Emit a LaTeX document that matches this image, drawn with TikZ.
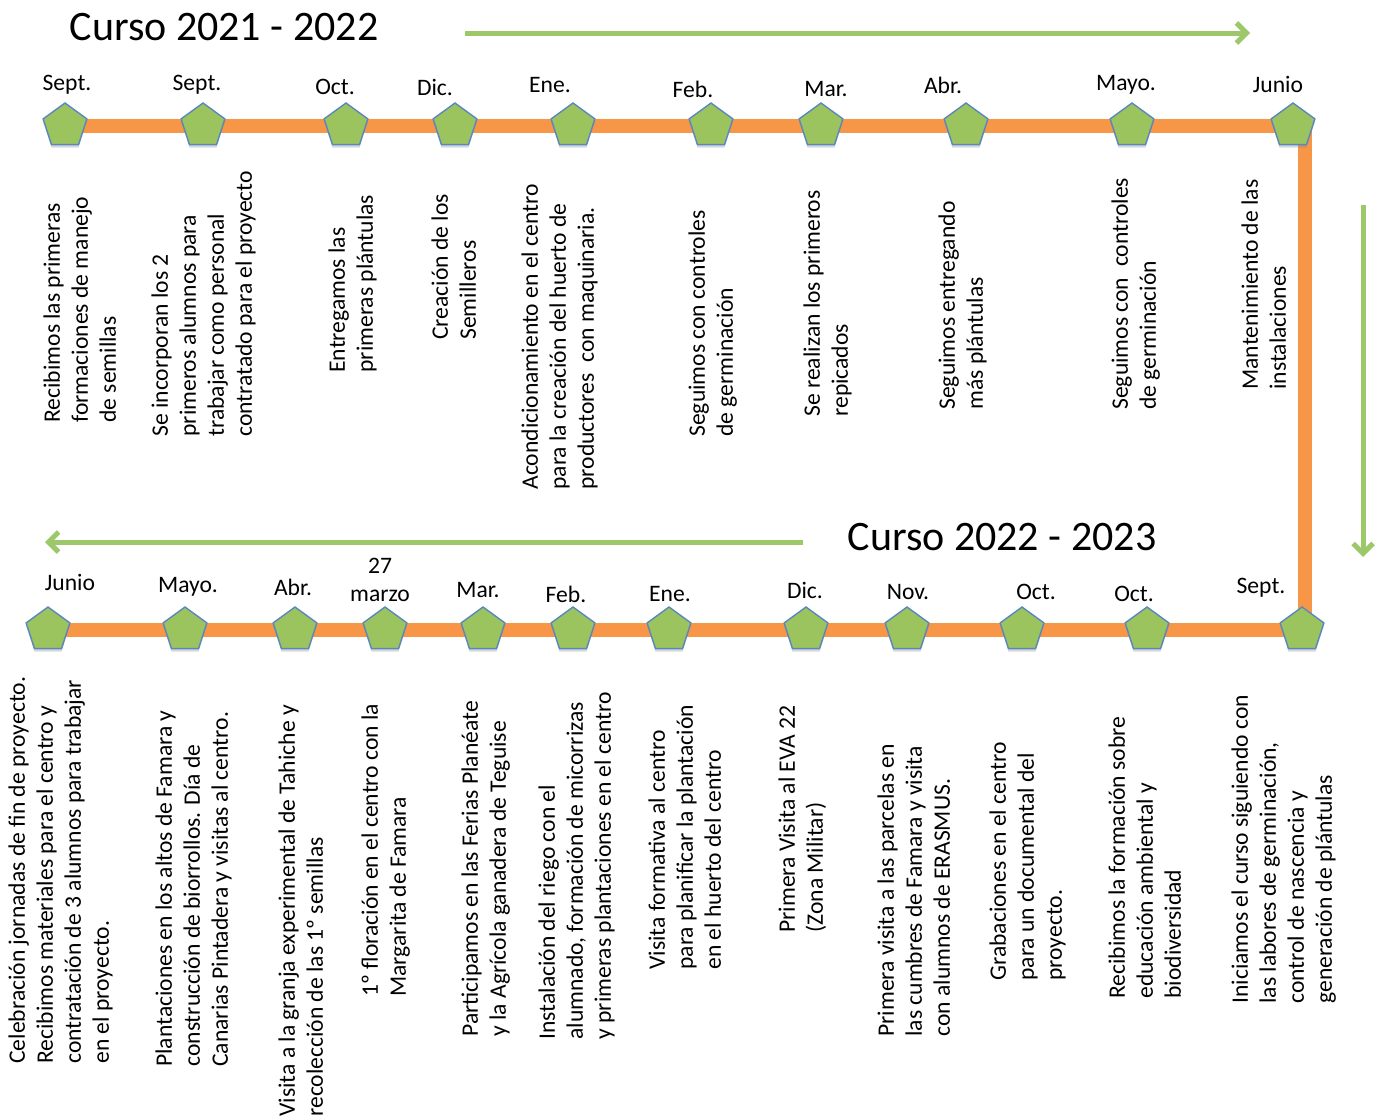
\documentclass[tikz,border=0pt]{standalone}
\usepackage{fontspec}
\setmainfont{Carlito}
\usetikzlibrary{arrows.meta,positioning,shapes.geometric,backgrounds,shadows}
\definecolor{lineorange}{HTML}{F79646}
\definecolor{leafgreen}{HTML}{9BC35E}
\definecolor{arrowgreen}{HTML}{9DC86A}
\definecolor{edgeblue}{HTML}{5B87BF}

\begin{document}
\begin{tikzpicture}[
  x=0.5pt, y=-0.5pt,
  pent/.style={
    regular polygon,
    regular polygon sides=5,
    minimum size=23pt,
    inner sep=0pt,
    fill=leafgreen,
    draw=edgeblue,
    line width=0.7pt,
    drop shadow={shadow xshift=0pt, shadow yshift=-1.5pt, opacity=0.3}
  },
  month/.style={inner sep=0pt, font=\fontsize{11.8}{14}\selectfont},
  event/.style={
    rotate=90,
    anchor=north west,
    align=left,
    inner sep=0pt,
    font=\fontsize{11.8}{14}\selectfont
  },
  course/.style={inner sep=0pt, font=\fontsize{21}{25}\selectfont},
  flow/.style={arrowgreen, line width=2.5pt, -{Straight Barb[length=5pt,width=10pt,line width=2.5pt]}},
  track/.style={lineorange, line width=7pt}
]
  \useasboundingbox (0,0) rectangle (1384,1119);

  % Course titles and direction arrows
  \node[course] (c1) at (224,27) {Curso 2021 - 2022};
  \node[course] (c2) at (1002,537) {Curso 2022 - 2023};
  \coordinate (a1s) at (465,33);
  \coordinate (a1e) at (1250,33);
  \coordinate (a2s) at (1363,205);
  \coordinate (a2e) at (1363,557);
  \coordinate (a3s) at (803,542);
  \coordinate (a3e) at (45,542);
  \draw[flow] (a1s) -- (a1e);
  \draw[flow] (a2s) -- (a2e);
  \draw[flow] (a3s) -- (a3e);

  % Top row: Curso 2021 - 2022
  \node[pent] (t1) at (65,126) {};
  \node[pent] (t2) at (203,126) {};
  \node[pent] (t3) at (346,126) {};
  \node[pent] (t4) at (455,126) {};
  \node[pent] (t5) at (573,126) {};
  \node[pent] (t6) at (711,126) {};
  \node[pent] (t7) at (821,126) {};
  \node[pent] (t8) at (966,126) {};
  \node[pent] (t9) at (1132,126) {};
  \node[pent] (t10) at (1293,126) {};

  \node[month] (m1) at (67,85) {Sept.};
  \node[month] (m2) at (197,85) {Sept.};
  \node[month] (m3) at (335,87) {Oct.};
  \node[month] (m4) at (435,87) {Dic.};
  \node[month] (m5) at (550,85) {Ene.};
  \node[month] (m6) at (693,89) {Feb.};
  \node[month] (m7) at (826,89) {Mar.};
  \node[month] (m8) at (943,85) {Abr.};
  \node[month] (m9) at (1126,85) {Mayo.};
  \node[month] (m10) at (1278,84) {Junio};

  \node[event] (e1) at (43,423) {Recibimos las primeras\\formaciones de manejo\\de semillas};
  \node[event] (e2) at (151,437) {Se incorporan los 2\\primeros alumnos para\\trabajar como personal\\contratado para el proyecto};
  \node[event] (e3) at (328,373) {Entregamos las\\primeras plántulas};
  \node[event] (e4) at (431,340) {Creación de los\\Semilleros};
  \node[event] (e5) at (521,490) {Acondicionamiento en el centro\\para la creación del huerto de\\productores\ \ con maquinaria.};
  \node[event] (e6) at (688,437) {Seguimos con controles\\de germinación};
  \node[event] (e7) at (803,417) {Se realizan los primeros\\repicados};
  \node[event] (e8) at (938,410) {Seguimos entregando\\más plántulas};
  \node[event] (e9) at (1111,410) {Seguimos con\ \ controles\\de germinación};
  \node[event] (e10) at (1241,390) {Mantenimiento de las\\instalaciones};

  % Bottom row: Curso 2022 - 2023
  \node[pent] (b1) at (48,630) {};
  \node[pent] (b2) at (185,630) {};
  \node[pent] (b3) at (295,630) {};
  \node[pent] (b4) at (385,630) {};
  \node[pent] (b5) at (483,630) {};
  \node[pent] (b6) at (573,630) {};
  \node[pent] (b7) at (669,630) {};
  \node[pent] (b8) at (806,630) {};
  \node[pent] (b9) at (907,630) {};
  \node[pent] (b10) at (1022,630) {};
  \node[pent] (b11) at (1147,630) {};
  \node[pent] (b12) at (1302,630) {};

  \node[month] (n1) at (70,582) {Junio};
  \node[month] (n2) at (188,587) {Mayo.};
  \node[month] (n3) at (293,587) {Abr.};
  \node[month, align=center] (n4) at (380,580) {27\\marzo};
  \node[month] (n5) at (478,590) {Mar.};
  \node[month] (n6) at (566,594) {Feb.};
  \node[month] (n7) at (670,594) {Ene.};
  \node[month] (n8) at (805,590) {Dic.};
  \node[month] (n9) at (908,592) {Nov.};
  \node[month] (n10) at (1036,592) {Oct.};
  \node[month] (n11) at (1134,594) {Oct.};
  \node[month] (n12) at (1261,588) {Sept.};

  \node[event] (f1) at (8,1064) {Celebración jornadas de fin de proyecto.\\Recibimos materiales para el centro y\\contratación de 3 alumnos para trabajar\\en el proyecto.};
  \node[event] (f2) at (155,1067) {Plantaciones en los altos de Famara y\\construcción de biorrollos. Día de\\Canarias Pintadera y visitas al centro.};
  \node[event] (f3) at (278,1117) {Visita a la granja experimental de Tahiche y\\recolección de las 1º semillas};
  \node[event] (f4) at (361,997) {1º floración en el centro con la\\Margarita de Famara};
  \node[event] (f5) at (461,1037) {Participamos en las Ferias Planéate\\y la Agrícola ganadera de Teguise};
  \node[event] (f6) at (538,1040) {Instalación del riego con el\\alumnado, formación de micorrizas\\y primeras plantaciones en el centro};
  \node[event] (f7) at (648,970) {Visita formativa al centro\\para planificar la plantación\\en el huerto del centro};
  \node[event] (f8) at (778,933) {Primera Visita al EVA 22\\(Zona Militar)};
  \node[event] (f9) at (877,1037) {Primera visita a las parcelas en\\las cumbres de Famara y visita\\con alumnos de ERASMUS.};
  \node[event] (f10) at (989,981) {Grabaciones en el centro\\para un documental del\\proyecto.};
  \node[event] (f11) at (1108,999) {Recibimos la formación sobre\\educación ambiental y\\biodiversidad};
  \node[event] (f12) at (1231,1004) {Iniciamos el curso siguiendo con\\las labores de germinación,\\control de nascencia y\\generación de plántulas};

  % Orange time line behind the markers
  \coordinate (turnTop) at (1305,126);
  \coordinate (turnBot) at (1305,630);
  \begin{scope}[on background layer]
    \draw[track] (t1.center) -- (t10.center) -- (turnTop) -- (turnBot) -- (b12.center) -- (b1.center);
  \end{scope}

\end{tikzpicture}
\end{document}
